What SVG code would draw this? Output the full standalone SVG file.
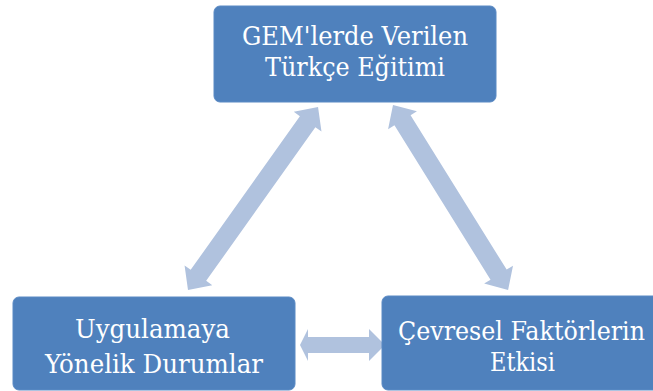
<svg xmlns="http://www.w3.org/2000/svg" width="653" height="391" viewBox="0 0 653 391">
<style>
.box{fill:#4F81BD;stroke:#5B8AC4;stroke-width:1}
.lbl{font-family:'DejaVu Serif',serif;font-size:26px;fill:#FFFFFF;text-anchor:middle}
.arr{fill:#B0C2DE}
</style>
<rect width="653" height="391" fill="#FFFFFF"/>
<g id="connectors">
<path class="arr" transform="translate(188,290) rotate(-54.6)" d="M0,0 L18,-17 L18,-9.5 L206.5,-9.5 L206.5,-17 L224.5,0 L206.5,17 L206.5,9.5 L18,9.5 L18,17 Z"/>
<path class="arr" transform="translate(393,105) rotate(58.1)" d="M0,0 L18,-17 L18,-9.5 L199.8,-9.5 L199.8,-17 L217.8,0 L199.8,17 L199.8,9.5 L18,9.5 L18,17 Z"/>
<path class="arr" d="M300,345 L308,329 L308,337 L369,337 L369,329 L385,345 L369,361 L369,353 L308,353 L308,361 Z"/>
</g>
<g id="node-gem">
<rect class="box" x="214" y="6" width="282" height="96" rx="6"/>
<text class="lbl" x="355" y="45" textLength="226" lengthAdjust="spacingAndGlyphs">GEM'lerde Verilen</text>
<text class="lbl" x="355" y="76" textLength="180" lengthAdjust="spacingAndGlyphs">Türkçe Eğitimi</text>
</g>
<g id="node-uygulama">
<rect class="box" x="13" y="297" width="282" height="93" rx="6"/>
<text class="lbl" x="152.5" y="338" textLength="155" lengthAdjust="spacingAndGlyphs">Uygulamaya</text>
<text class="lbl" x="154" y="373" textLength="218" lengthAdjust="spacingAndGlyphs">Yönelik Durumlar</text>
</g>
<g id="node-cevresel">
<rect class="box" x="382" y="296" width="282" height="94" rx="6"/>
<text class="lbl" x="521.5" y="340" textLength="247" lengthAdjust="spacingAndGlyphs">Çevresel Faktörlerin</text>
<text class="lbl" x="522.5" y="371" textLength="65" lengthAdjust="spacingAndGlyphs">Etkisi</text>
</g>
</svg>
